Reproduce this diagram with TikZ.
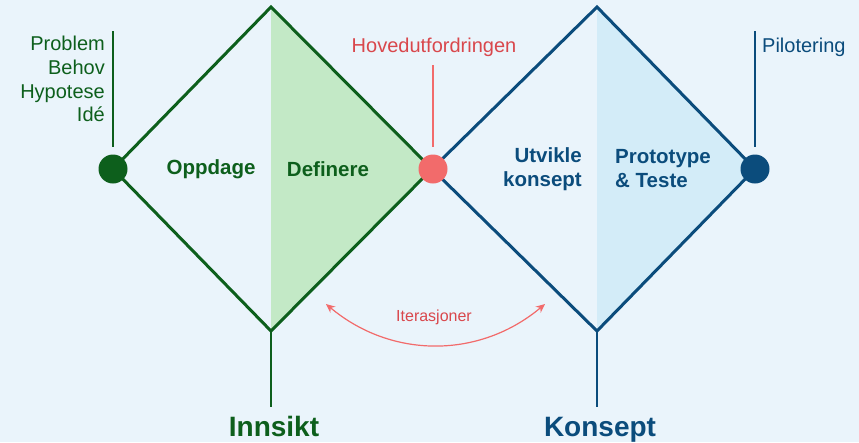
\documentclass[tikz,border=0pt]{standalone}
\usepackage{fontspec}
\setmainfont{Liberation Sans}
\usetikzlibrary{arrows.meta}

\definecolor{bgblue}{HTML}{EAF4FB}
\definecolor{darkgreen}{HTML}{0D5F1C}
\definecolor{lightgreen}{HTML}{C3E9C6}
\definecolor{darkblue}{HTML}{0B4C7C}
\definecolor{lightblue}{HTML}{D3ECF8}
\definecolor{dotred}{HTML}{F26B6B}
\definecolor{textred}{HTML}{D9474C}

\tikzset{
  phase/.style={font=\fontsize{20.5}{24}\selectfont\bfseries, inner sep=0pt},
  note/.style={font=\fontsize{20}{23.7}\selectfont, inner sep=0pt},
  title/.style={font=\fontsize{28}{32}\selectfont\bfseries, inner sep=0pt},
  dot/.style={circle, minimum size=29pt, inner sep=0pt},
}

\begin{document}
\begin{tikzpicture}[x=1pt,y=-1pt]
	% Background
	\fill[bgblue] (0,0) rectangle (859,442);
	\useasboundingbox (0,0) rectangle (859,442);
	
	% Shade right halves of the diamonds
	\fill[lightgreen] (271,7) -- (432,169) -- (271,331) -- cycle;
	\fill[lightblue] (597,7) -- (755,169) -- (597,331) -- cycle;
	
	% Draw diamonds
	\draw[darkgreen,line width=3pt,line join=miter] (113,169) -- (271,7) -- (432,169) -- (271,331) -- cycle;
	\draw[darkblue,line width=3pt,line join=miter] (432,169) -- (597,7) -- (755,169) -- (597,331) -- cycle;
	
	% Dots on the corners
	\node[dot,fill=darkgreen] (start) at (113,169) {};
	\node[dot,fill=dotred] (mid) at (433,169) {};
	\node[dot,fill=darkblue] (end) at (755,169) {};
	
	% Bottom corners and line ends
	\coordinate (bot1) at (271,331);
	\coordinate (bot2) at (597,331);
	\coordinate (top1) at (113,31);
	\coordinate (low1) at (113,147);
	\coordinate (top2) at (433,65);
	\coordinate (low2) at (433,147);
	\coordinate (top3) at (755,31);
	\coordinate (low3) at (755,147);
	
	% Side notes
	\node[note,darkgreen,align=right,anchor=north east] (inputs) at (105,36) {Problem\\Behov\\Hypotese\\Idé};
	\node[note,textred,anchor=base] (challenge) at (434,52) {Hovedutfordringen};
	\node[note,darkblue,anchor=base west] (pilot) at (762,52) {Pilotering};
	
	% Lines to the notes
	\draw[darkgreen,line width=2pt] (top1) -- (low1);
	\draw[dotred,line width=2pt] (top2) -- (low2);
	\draw[darkblue,line width=2pt] (top3) -- (low3);
	
	% Phase labels
	\node[phase,darkgreen] (discover) at (211,169) {Oppdage};
	\node[phase,darkgreen] (define) at (328,169) {Definere};
	\node[phase,darkblue,align=right,anchor=east] (develop) at (582,169) {Utvikle\\konsept};
	\node[phase,darkblue,align=left,anchor=west] (deliver) at (615,169) {Prototype\\\& Teste};
	
	% Titles under the diamonds
	\node[title,darkgreen,anchor=base] (insight) at (274,436) {Innsikt};
	\node[title,darkblue,anchor=base] (concept) at (600,436) {Konsept};
	\draw[darkgreen,line width=2pt] (bot1) -- (271,407);
	\draw[darkblue,line width=2pt] (bot2) -- (597,407);
	
	% Iteration arrow
	\coordinate (itleft) at (326,304);
	\coordinate (itright) at (545,304);
	\draw[dotred,line width=1.2pt,{Stealth[length=9pt,width=8pt]}-{Stealth[length=9pt,width=8pt]}] (itleft) to[bend right=40] (itright);
	\node[textred,font=\fontsize{16}{18}\selectfont,inner sep=0pt] (iter) at (434,317) {Iterasjoner};
\end{tikzpicture}
\end{document}
